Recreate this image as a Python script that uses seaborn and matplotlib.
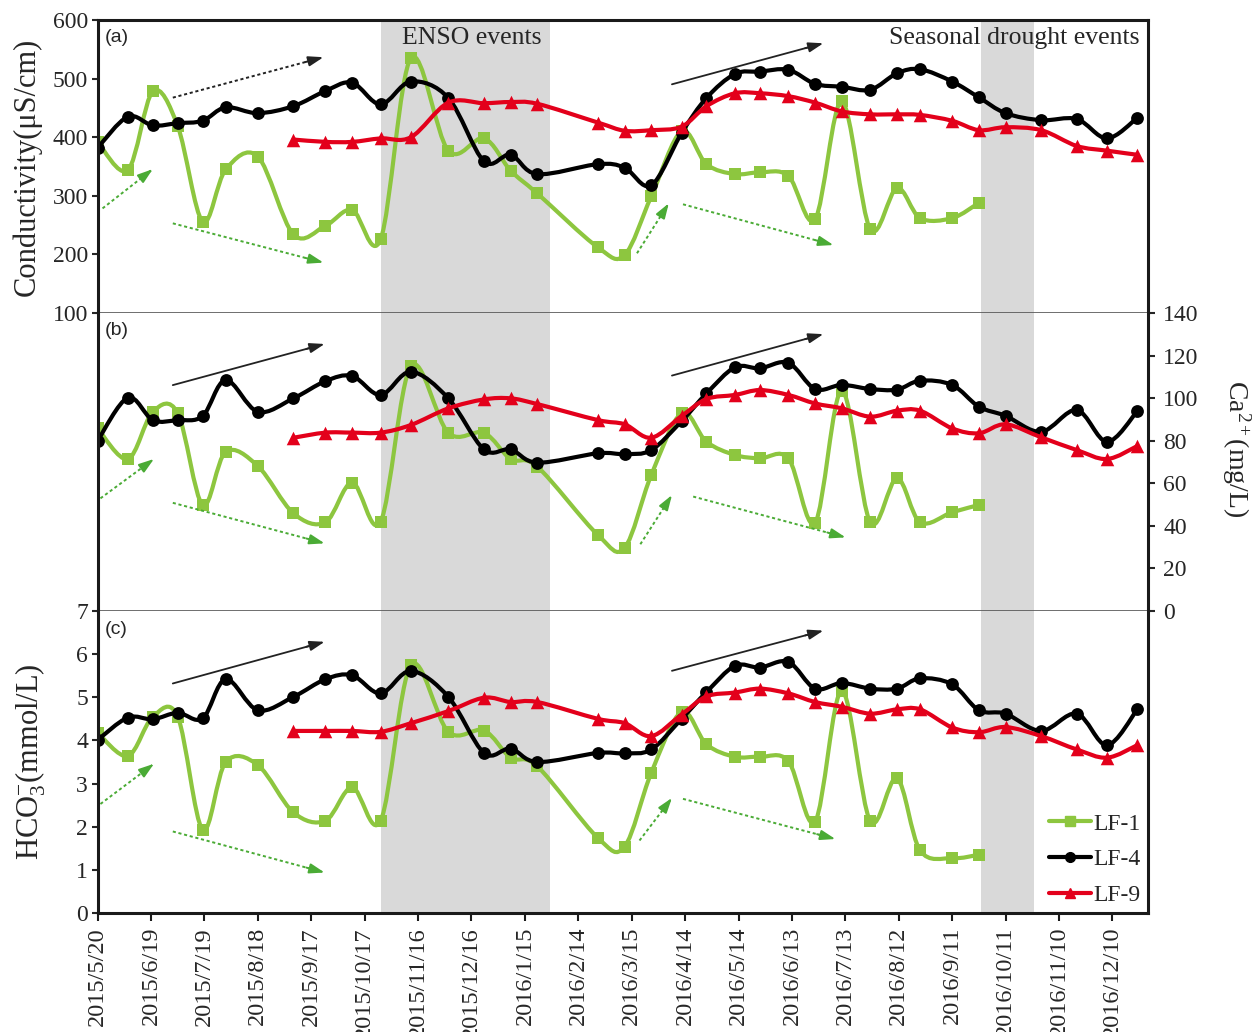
import numpy as np
import pandas as pd
import matplotlib
matplotlib.use("Agg")
import matplotlib.pyplot as plt
import matplotlib.dates as mdates
from matplotlib.path import Path
from matplotlib.patches import PathPatch
from matplotlib.lines import Line2D
from matplotlib.ticker import FixedLocator, FixedFormatter, NullLocator
import seaborn as sns

# ---------------------------------------------------------------- data
sample_dates = [
    "2015-05-20", "2015-06-06", "2015-06-20", "2015-07-04", "2015-07-18",
    "2015-07-31", "2015-08-18", "2015-09-07", "2015-09-25", "2015-10-10",
    "2015-10-26", "2015-11-12", "2015-12-03", "2015-12-23", "2016-01-07",
    "2016-01-22", "2016-02-25", "2016-03-11", "2016-03-26", "2016-04-12",
    "2016-04-26", "2016-05-12", "2016-05-26", "2016-06-11", "2016-06-26",
    "2016-07-11", "2016-07-27", "2016-08-11", "2016-08-24", "2016-09-11",
    "2016-09-26", "2016-10-11", "2016-10-31", "2016-11-20", "2016-12-07",
    "2016-12-24",
]
sites = ["LF-1", "LF-4", "LF-9"]
# LF-1 covers the first 31 dates, LF-9 starts on the 8th date
lf1_start, lf4_start, lf9_start = 0, 0, 7

cond_lf1 = [392, 344, 478, 419, 256, 345, 367, 234, 249, 276, 226, 535, 377,
            398, 343, 304, 212, 199, 299, 410, 354, 337, 340, 334, 260, 461,
            243, 313, 262, 262, 288]
cond_lf4 = [382, 435, 420, 424, 428, 451, 441, 453, 479, 493, 456, 495, 467,
            359, 370, 337, 354, 348, 318, 407, 467, 508, 512, 515, 491, 486,
            481, 509, 516, 495, 468, 441, 429, 431, 398, 433]
cond_lf9 = [396, 392, 392, 398, 400, 459, 458, 460, 457, 425, 411, 412, 418,
            453, 475, 475, 470, 459, 444, 439, 439, 438, 428, 412, 417, 412,
            385, 377, 370]

ca_lf1 = [85.8, 71.4, 93.6, 93.0, 49.8, 74.8, 68.1, 45.9, 41.7, 60.3, 42.0,
          115.0, 83.7, 83.7, 71.4, 67.8, 35.7, 29.7, 63.9, 92.9, 79.5, 73.3,
          71.7, 71.7, 41.5, 103.5, 41.7, 62.3, 41.7, 46.4, 49.8]
ca_lf4 = [80.0, 100.2, 89.7, 89.7, 91.6, 108.5, 93.6, 99.9, 108.0, 110.4,
          101.5, 112.4, 99.9, 75.9, 75.9, 69.7, 74.1, 73.7, 75.6, 89.2, 102.2,
          114.5, 114.0, 116.6, 104.3, 106.2, 104.3, 104.0, 108.2, 106.2, 96.0,
          91.7, 84.2, 94.4, 79.5, 93.9]
ca_lf9 = [81.4, 83.8, 83.8, 83.8, 87.4, 95.2, 99.4, 99.9, 97.2, 89.7, 87.7,
          81.4, 91.6, 99.6, 101.5, 103.8, 101.5, 97.5, 95.2, 91.3, 94.1, 94.1,
          85.8, 83.5, 87.7, 81.6, 75.6, 71.4, 77.5]

hco3_lf1 = [4.18, 3.64, 4.55, 4.55, 1.93, 3.50, 3.43, 2.33, 2.14, 2.91, 2.14,
            5.74, 4.20, 4.23, 3.60, 3.40, 1.74, 1.54, 3.25, 4.66, 3.91, 3.62,
            3.62, 3.52, 2.12, 5.15, 2.13, 3.12, 1.45, 1.27, 1.35]
hco3_lf4 = [4.01, 4.53, 4.49, 4.64, 4.51, 5.42, 4.70, 5.01, 5.42, 5.51, 5.09,
            5.61, 5.01, 3.71, 3.81, 3.50, 3.71, 3.70, 3.79, 4.50, 5.12, 5.73,
            5.69, 5.82, 5.20, 5.33, 5.20, 5.20, 5.44, 5.30, 4.70, 4.62, 4.22,
            4.62, 3.89, 4.72]
hco3_lf9 = [4.22, 4.22, 4.22, 4.20, 4.40, 4.68, 4.99, 4.89, 4.89, 4.50, 4.40,
            4.10, 4.60, 5.02, 5.11, 5.20, 5.09, 4.89, 4.78, 4.62, 4.72, 4.72,
            4.30, 4.19, 4.31, 4.10, 3.79, 3.60, 3.89]

tick_labels = ["2015/5/20", "2015/6/19", "2015/7/19", "2015/8/18", "2015/9/17",
               "2015/10/17", "2015/11/16", "2015/12/16", "2016/1/15",
               "2016/2/14", "2016/3/15", "2016/4/14", "2016/5/14", "2016/6/13",
               "2016/7/13", "2016/8/12", "2016/9/11", "2016/10/11",
               "2016/11/10", "2016/12/10"]

enso_span = ("2015-10-26", "2016-01-29")
drought_span = ("2016-09-27", "2016-10-27")
x_range = ("2015-05-20", "2016-12-30")

# ---------------------------------------------------------------- style
sns.set_style("white")
plt.rcParams["font.family"] = ["Liberation Serif", "DejaVu Serif"]
plt.rcParams["mathtext.fontset"] = "custom"
plt.rcParams["mathtext.rm"] = "Liberation Serif"
plt.rcParams["mathtext.it"] = "Liberation Serif:italic"
plt.rcParams["mathtext.bf"] = "Liberation Serif:bold"

colors = {"LF-1": "#8dc63f", "LF-4": "#000000", "LF-9": "#e3001b"}
markers = {"LF-1": "s", "LF-4": "o", "LF-9": "^"}
msizes = {"LF-1": 70, "LF-4": 85, "LF-9": 95}
shade = "#d9d9d9"
arrow_green = "#4aab35"

W, H = 1257, 1032
fig = plt.figure(figsize=(W / 100, H / 100), dpi=100)

left, right = 97.6 / W, 1148 / W
rows = [(20, 313), (313, 611), (611, 913)]
axes = []
for top, bot in rows:
    axes.append(fig.add_axes([left, 1 - bot / H, right - left, (bot - top) / H]))
ax_a, ax_b, ax_c = axes

dates = pd.to_datetime(sample_dates)


def smooth_path(x, y):
    """Cubic Bezier path through every point (Catmull-Rom style tangents)."""
    x = np.asarray(x, float)
    y = np.asarray(y, float)
    n = len(x)
    verts = [(x[0], y[0])]
    codes = [Path.MOVETO]
    for i in range(n - 1):
        p0 = i - 1 if i > 0 else i
        p3 = i + 2 if i + 2 < n else i + 1
        c1 = (x[i] + (x[i + 1] - x[p0]) / 6, y[i] + (y[i + 1] - y[p0]) / 6)
        c2 = (x[i + 1] - (x[p3] - x[i]) / 6, y[i + 1] - (y[p3] - y[i]) / 6)
        verts += [c1, c2, (x[i + 1], y[i + 1])]
        codes += [Path.CURVE4] * 3
    return Path(verts, codes)


def draw_series(ax, series):
    z = 3
    for site, (start, vals) in zip(sites, series):
        d = dates[start:start + len(vals)]
        xn = mdates.date2num(d.to_pydatetime())
        ax.add_patch(PathPatch(smooth_path(xn, vals), fill=False,
                               edgecolor=colors[site], lw=3.0,
                               joinstyle="round", capstyle="round", zorder=z))
        frame = pd.DataFrame({"date": d, "value": vals})
        sns.scatterplot(data=frame, x="date", y="value", marker=markers[site],
                        color=colors[site], s=msizes[site], linewidth=0,
                        ax=ax, zorder=z + 1, legend=False)
        z += 2


draw_series(ax_a, [(lf1_start, cond_lf1), (lf4_start, cond_lf4), (lf9_start, cond_lf9)])
draw_series(ax_b, [(lf1_start, ca_lf1), (lf4_start, ca_lf4), (lf9_start, ca_lf9)])
draw_series(ax_c, [(lf1_start, hco3_lf1), (lf4_start, hco3_lf4), (lf9_start, hco3_lf9)])

xlo, xhi = pd.to_datetime(x_range)
tick_pos = pd.to_datetime([s.replace("/", "-") for s in tick_labels])
for ax in axes:
    ax.axvspan(pd.Timestamp(enso_span[0]), pd.Timestamp(enso_span[1]),
               color=shade, lw=0, zorder=0)
    ax.axvspan(pd.Timestamp(drought_span[0]), pd.Timestamp(drought_span[1]),
               color=shade, lw=0, zorder=0)
    ax.set_xlim(xlo, xhi)
    ax.set_xlabel("")
    ax.set_ylabel("")
    ax.set_facecolor("white")
    for s in ax.spines.values():
        s.set_visible(True)
        s.set_color("#1a1a1a")
        s.set_linewidth(2.2)
        s.set_zorder(20)

# inner borders between panels are thin grey rules
ax_a.spines["bottom"].set_linewidth(1.2)
ax_a.spines["bottom"].set_color("#555555")
ax_b.spines["bottom"].set_linewidth(1.2)
ax_b.spines["bottom"].set_color("#555555")
ax_b.spines["top"].set_visible(False)
ax_c.spines["top"].set_visible(False)

# x ticks only at the bottom panel
for ax in (ax_a, ax_b):
    ax.xaxis.set_major_locator(NullLocator())
    ax.tick_params(axis="x", bottom=False, labelbottom=False)
ax_c.xaxis.set_major_locator(FixedLocator(mdates.date2num(tick_pos.to_pydatetime())))
ax_c.xaxis.set_major_formatter(FixedFormatter(tick_labels))
ax_c.tick_params(axis="x", bottom=True, direction="out", length=6, width=1.5,
                 pad=4, labelsize=17.5, labelrotation=90, color="#1a1a1a")

# y axes
ax_a.set_ylim(100, 600)
ax_a.set_yticks(range(100, 601, 100))
ax_a.tick_params(axis="y", left=True, right=False, direction="out", length=4,
                 width=1.5, pad=3, labelsize=17)

ax_b.set_ylim(0, 140)
ax_b.yaxis.tick_right()
ax_b.yaxis.set_label_position("right")
ax_b.set_yticks(range(0, 141, 20))
ax_b.tick_params(axis="y", left=False, right=True, labelleft=False,
                 labelright=True, direction="out", length=5, width=1.5,
                 pad=6, labelsize=17)

ax_c.set_ylim(0, 7)
ax_c.set_yticks(range(0, 8))
ax_c.tick_params(axis="y", left=True, right=False, direction="out", length=4,
                 width=1.5, pad=3, labelsize=17)

ax_a.set_ylabel("Conductivity(\u03bcS/cm)", fontsize=22, va="center")
ax_a.yaxis.set_label_coords((27 - 97.6) / 1050.4, 0.5)
ax_c.set_ylabel(r"HCO$_3^{-}$(mmol/L)", fontsize=22, va="center")
ax_c.yaxis.set_label_coords((31 - 97.6) / 1050.4, 0.5)
ax_b.set_ylabel(r"Ca$^{2+}$(mg/L)", fontsize=20, rotation=270, va="center")
ax_b.yaxis.set_label_coords((1236 - 97.6) / 1050.4, 0.544)

# panel tags and event names
for ax, tag in zip(axes, ["(a)", "(b)", "(c)"]):
    ax.text(0.007, 0.94, tag, transform=ax.transAxes, fontsize=14,
            family=["Liberation Sans", "DejaVu Sans"], ha="left", va="center",
            zorder=25)
ax_a.text(0.3564, 0.938, "ENSO events", transform=ax_a.transAxes, fontsize=18.5,
          ha="center", va="center", zorder=25)
ax_a.text(0.992, 0.938, "Seasonal drought events", transform=ax_a.transAxes,
          fontsize=18.5, ha="right", va="center", zorder=25)

# trend arrows (axes-fraction start/end, colour, dotted?)
trend_arrows = {
    ax_a: [((0.0716, 0.735), (0.215, 0.873), "k", True),
           ((0.0047, 0.357), (0.0525, 0.491), "g", True),
           ((0.0716, 0.306), (0.215, 0.172), "g", True),
           ((0.5468, 0.7805), (0.6909, 0.9205), "k", False),
           ((0.5135, 0.2038), (0.5438, 0.3744), "g", True),
           ((0.5573, 0.371), (0.7005, 0.232), "g", True)],
    ax_b: [((0.0716, 0.758), (0.2161, 0.896), "k", False),
           ((0.0027, 0.378), (0.0536, 0.510), "g", True),
           ((0.0716, 0.363), (0.2161, 0.227), "g", True),
           ((0.5468, 0.790), (0.6909, 0.929), "k", False),
           ((0.5167, 0.224), (0.5468, 0.389), "g", True),
           ((0.567, 0.384), (0.7121, 0.247), "g", True)],
    ax_c: [((0.0716, 0.760), (0.2161, 0.898), "k", False),
           ((0.0027, 0.361), (0.0536, 0.494), "g", True),
           ((0.0716, 0.270), (0.2161, 0.134), "g", True),
           ((0.5468, 0.802), (0.6909, 0.935), "k", False),
           ((0.5159, 0.240), (0.5468, 0.381), "g", True),
           ((0.5573, 0.378), (0.7024, 0.245), "g", True)],
}
for ax, arrows in trend_arrows.items():
    for (x0, y0), (x1, y1), c, dotted in arrows:
        col = "#222222" if c == "k" else arrow_green
        ls = (0, (1.6, 1.4)) if dotted else "-"
        lw = 1.4 if dotted else 1.3
        ax.plot([x0, x1 - 0.03 * (x1 - x0)], [y0, y1 - 0.03 * (y1 - y0)],
                transform=ax.transAxes, color=col, lw=lw, ls=ls, zorder=15)
        ax.annotate("", xy=(x1, y1),
                    xytext=(x1 - 0.12 * (x1 - x0), y1 - 0.12 * (y1 - y0)),
                    xycoords="axes fraction", textcoords="axes fraction",
                    arrowprops=dict(arrowstyle="-|>,head_length=0.9,head_width=0.3",
                                    color=col, lw=lw, shrinkA=0, shrinkB=0),
                    zorder=15)

# legend
handles = [Line2D([], [], color=colors[s], lw=3, marker=markers[s],
                  markersize=7) for s in sites]
ax_c.legend(handles, sites, loc="lower right", frameon=False, fontsize=17,
            handlelength=1.8, handletextpad=0.1, labelspacing=0.6,
            borderaxespad=0.1, borderpad=0.2)

fig.savefig("out.png", dpi=100, facecolor="white")
